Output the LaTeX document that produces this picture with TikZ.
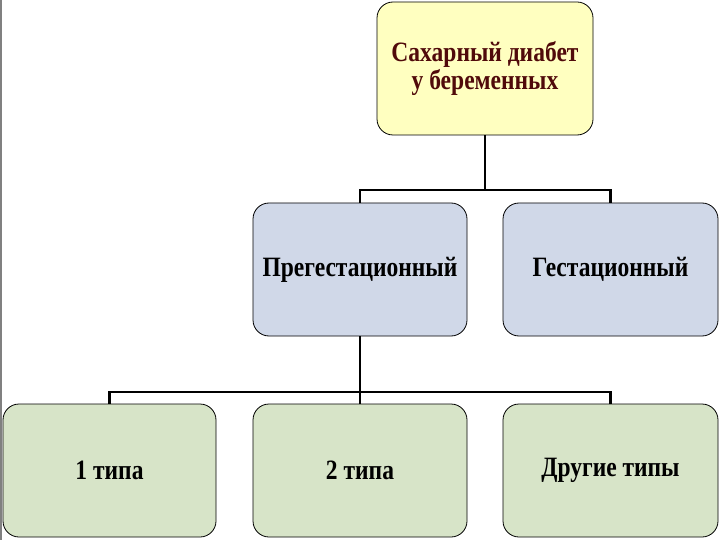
\documentclass[tikz,border=0pt]{standalone}
\usepackage{fontspec}
\setmainfont{Liberation Serif}
\newfontfamily\condserif[FakeStretch=0.84]{Liberation Serif}
\definecolor{boxyellow}{RGB}{255,255,192}
\definecolor{boxblue}{RGB}{208,216,232}
\definecolor{boxgreen}{RGB}{215,228,200}
\definecolor{titlered}{RGB}{80,10,10}
\begin{document}
\begin{tikzpicture}[x=1pt,y=-1pt,
  box/.style={draw=black, line width=0.8pt, rounded corners=16pt, minimum width=214pt, minimum height=133pt, inner sep=0pt, align=center, font=\condserif\bfseries\fontsize{28}{28}\selectfont},
  conn/.style={draw=black, line width=2.2pt}]
\useasboundingbox (0,0) rectangle (720,540);
\fill[white] (0,0) rectangle (720,540);
\draw[gray, line width=1.5pt] (1,0) -- (1,540);
\node[box, fill=boxyellow, text=titlered, minimum width=216pt] (top) at (485,68.5) {Сахарный диабет\\у беременных};
\node[box, fill=boxblue] (pre) at (360,269.5) {Прегестационный};
\node[box, fill=boxblue, minimum width=215pt] (ges) at (610.5,269.5) {Гестационный};
\node[box, fill=boxgreen, minimum width=213pt] (t1) at (109.5,470.5) {1 типа};
\node[box, fill=boxgreen] (t2) at (360,470.5) {2 типа};
\node[box, fill=boxgreen, minimum width=215pt] (oth) at (610.5,470.5) {Другие типы};
\coordinate (j1) at (485,190);
\coordinate (j2) at (360,392);
\draw[conn] (top.south) -- (j1);
\draw[conn] (pre.north) |- (j1) -| (ges.north);
\draw[conn] (pre.south) -- (j2);
\draw[conn] (t1.north) |- (j2) -| (oth.north);
\draw[conn] (j2) -- (t2.north);
\end{tikzpicture}
\end{document}
